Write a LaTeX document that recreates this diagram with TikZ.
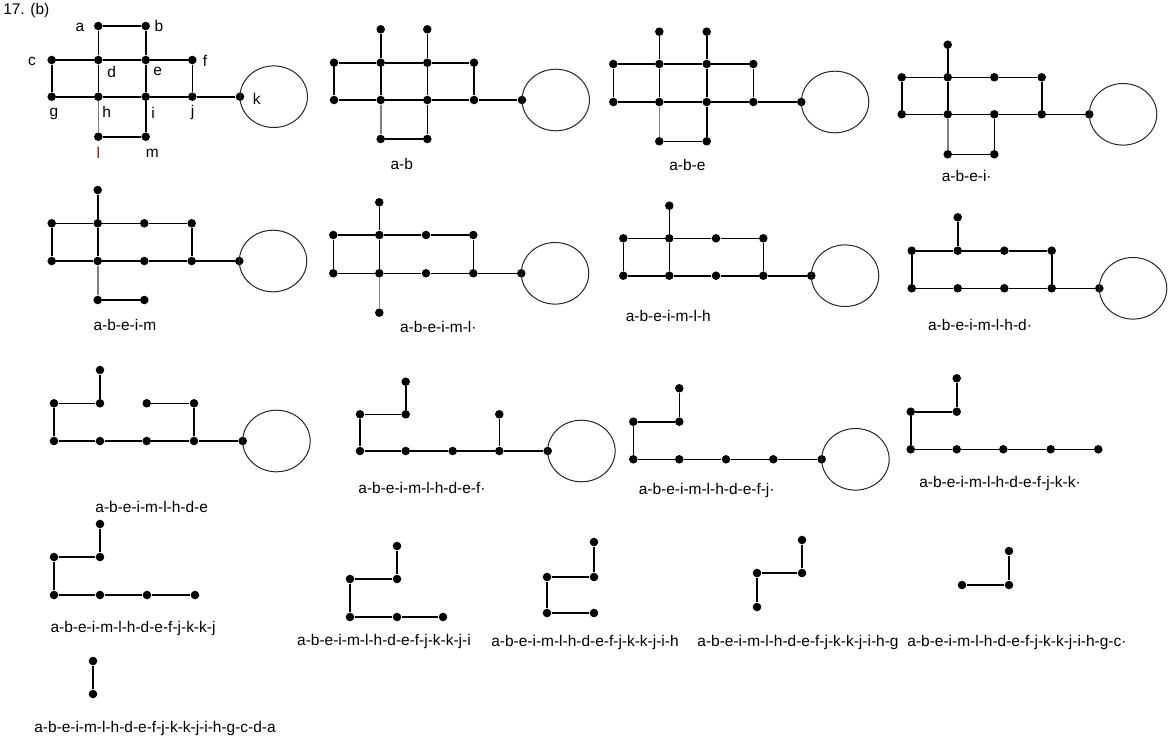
\documentclass[tikz,border=0pt]{standalone}
\usepackage{fontspec}
\setmainfont{Liberation Sans}
\newcommand\vx[3]{\node[dot] (#1) at (#2,#3) {};}
\newcommand\kloop[1]{\draw[loopline] ([xshift=25.3pt]#1.center) ellipse [x radius=25.3pt, y radius=23.1pt];}
\definecolor{lred}{RGB}{140,25,25}
\tikzset{
  dot/.style={circle,fill=black,inner sep=0pt,minimum size=6.4pt},
  edge/.style={line width=1.2pt,black},
  gedge/.style={line width=1.2pt,black!50},
  loopline/.style={line width=0.75pt,black!85},
  lbl/.style={font=\fontsize{11.6pt}{14pt}\selectfont,inner sep=0pt,text height=8.3pt,text depth=0pt},
}
\begin{document}
\begin{tikzpicture}[x=0.75pt,y=-0.75pt]
\useasboundingbox (0,0) rectangle (1176,746);
\node[lbl,anchor=west] (title) at (3,9) {17. (b)};
% ---------- G1 ----------
\vx{Aa}{98.3}{26} \vx{Ab}{145.7}{26}
\vx{Ac}{51.7}{60} \vx{Ad}{98.3}{60} \vx{Ae}{145.7}{60} \vx{Af}{192.3}{60}
\vx{Ag}{51.7}{96.7} \vx{Ah}{98.3}{96.7} \vx{Ai}{145.7}{96.7} \vx{Aj}{192.3}{96.7} \vx{Ak}{240}{96.7}
\vx{Al}{98.3}{136.7} \vx{Am}{145.7}{136.7}
\draw[edge] (Aa)--(Ab) (Aa)--(Ad) (Ab)--(Ae) (Ac)--(Ad)--(Ae)--(Af) (Ac)--(Ag) (Ad)--(Ah) (Ae)--(Ai) (Af)--(Aj)
  (Ag)--(Ah)--(Ai)--(Aj)--(Ak) (Ai)--(Am) (Al)--(Am);
\draw[gedge] (Ah)--(Al);
\kloop{Ak}
\node[lbl] (ta) at (80,26) {a};
\node[lbl] (tb) at (159,26) {b};
\node[lbl] (tc) at (32,60) {c};
\node[lbl] (td) at (111.7,71.7) {d};
\node[lbl] (te) at (157.7,70) {e};
\node[lbl] (tf) at (205,61) {f};
\node[lbl] (tg) at (54,110.5) {g};
\node[lbl] (th) at (106.7,112) {h};
\node[lbl] (ti) at (153,113) {i};
\node[lbl] (tj) at (192.7,110.5) {j};
\node[lbl] (tk) at (256.7,98.7) {k};
\node[lbl,text=lred] (tl) at (98.3,153) {l};
\node[lbl] (tm) at (152.3,151.7) {m};
% ---------- G2 ----------
\vx{Ba}{380.7}{29.3} \vx{Bb}{427.3}{29.3}
\vx{Bc}{334}{62.7} \vx{Bd}{380.7}{62.7} \vx{Be}{427.3}{62.7} \vx{Bf}{474}{62.7}
\vx{Bg}{334}{100} \vx{Bh}{380.7}{100} \vx{Bi}{427.3}{100} \vx{Bj}{474}{100} \vx{Bk}{522}{100}
\vx{Bl}{380.7}{139} \vx{Bm}{427.3}{139}
\draw[edge] (Ba)--(Bd) (Bb)--(Be) (Bc)--(Bd)--(Be)--(Bf) (Bc)--(Bg) (Bd)--(Bh) (Be)--(Bi) (Bf)--(Bj)
  (Bg)--(Bh)--(Bi)--(Bj)--(Bk) (Bi)--(Bm) (Bl)--(Bm);
\draw[gedge] (Bh)--(Bl);
\kloop{Bk}
\node[lbl] (L2) at (401.7,164) {a-b};
% ---------- G3 ----------
\vx{Ca}{659.3}{31.7} \vx{Cb}{706.7}{31.7}
\vx{Cc}{613.3}{64} \vx{Cd}{659.3}{64} \vx{Ce}{706.7}{64} \vx{Cf}{753.3}{64}
\vx{Cg}{613.3}{102} \vx{Ch}{659.3}{102} \vx{Ci}{706.7}{102} \vx{Cj}{753.3}{102} \vx{Ck}{801.3}{102}
\vx{Cl}{659.3}{141.3} \vx{Cm}{706.7}{141.3}
\draw[edge] (Ca)--(Cd) (Cb)--(Ce) (Cc)--(Cd)--(Ce)--(Cf) (Cc)--(Cg) (Cd)--(Ch) (Ce)--(Ci) (Cf)--(Cj)
  (Cg)--(Ch)--(Ci)--(Cj)--(Ck) (Ci)--(Cm) (Cl)--(Cm);
\draw[gedge] (Ch)--(Cl);
\kloop{Ck}
\node[lbl] (L3) at (687.3,165) {a-b-e};
% ---------- G4 ----------
\vx{Da}{947.7}{44.7}
\vx{Dc}{901.7}{77.3} \vx{Dd}{947.7}{77.3} \vx{De}{994.3}{77.3} \vx{Df}{1041.7}{77.3}
\vx{Dg}{901.7}{114.3} \vx{Dh}{947.7}{114.3} \vx{Di}{994.3}{114.3} \vx{Dj}{1041.7}{114.3} \vx{Dk}{1089.3}{114.3}
\vx{Dl}{947.7}{154.3} \vx{Dm}{994.3}{154.3}
\draw[edge] (Da)--(Dd) (Dc)--(Dd)--(De)--(Df) (Dc)--(Dg) (Dd)--(Dh) (Df)--(Dj)
  (Dg)--(Dh)--(Di)--(Dj)--(Dk) (Di)--(Dm) (Dl)--(Dm);
\draw[gedge] (Dh)--(Dl);
\kloop{Dk}
\node[lbl] (L4) at (966.7,176) {a-b-e-i·};
% ---------- G5 ----------
\vx{Ea}{97.7}{190}
\vx{Ec}{51.7}{223.3} \vx{Ed}{97.7}{223.3} \vx{Ee}{144.3}{223.3} \vx{Ef}{191.7}{223.3}
\vx{Eg}{51.7}{261} \vx{Eh}{97.7}{261} \vx{Ei}{144.3}{261} \vx{Ej}{191.7}{261} \vx{Ek}{239.3}{261}
\vx{El}{97.7}{300} \vx{Em}{144.3}{300}
\draw[edge] (Ea)--(Ed) (Ec)--(Ed)--(Ee)--(Ef) (Ec)--(Eg) (Ed)--(Eh) (Ef)--(Ej)
  (Eg)--(Eh)--(Ei)--(Ej)--(Ek) (El)--(Em);
\draw[gedge] (Eh)--(El);
\kloop{Ek}
\node[lbl] (L5) at (125,325) {a-b-e-i-m};
% ---------- G6 ----------
\vx{Fa}{379.3}{202.3}
\vx{Fc}{333.3}{235} \vx{Fd}{379.3}{235} \vx{Fe}{426}{235} \vx{Ff}{473.3}{235}
\vx{Fg}{333.3}{273.3} \vx{Fh}{379.3}{273.3} \vx{Fi}{426}{273.3} \vx{Fj}{473.3}{273.3} \vx{Fk}{521.3}{273.3}
\vx{Fl}{379.3}{312.7}
\draw[edge] (Fa)--(Fd) (Fc)--(Fd)--(Fe)--(Ff) (Fc)--(Fg) (Fd)--(Fh) (Ff)--(Fj)
  (Fg)--(Fh)--(Fi)--(Fj)--(Fk);
\draw[gedge] (Fh)--(Fl);
\kloop{Fk}
\node[lbl] (L6) at (438.3,326.7) {a-b-e-i-m-l·};
% ---------- G7 ----------
\vx{Ga}{669.3}{205.7}
\vx{Gc}{623.3}{238.3} \vx{Gd}{669.3}{238.3} \vx{Ge}{716}{238.3} \vx{Gf}{763.3}{238.3}
\vx{Gg}{623.3}{275.7} \vx{Gh}{669.3}{275.7} \vx{Gi}{716}{275.7} \vx{Gj}{763.3}{275.7} \vx{Gk}{811.3}{275.7}
\draw[edge] (Ga)--(Gd) (Gc)--(Gd)--(Ge)--(Gf) (Gc)--(Gg) (Gd)--(Gh) (Gf)--(Gj)
  (Gg)--(Gh)--(Gi)--(Gj)--(Gk);
\kloop{Gk}
\node[lbl] (L7) at (668.3,316) {a-b-e-i-m-l-h};
% ---------- G8 ----------
\vx{Ha}{957.7}{217.3}
\vx{Hc}{911.7}{250.7} \vx{Hd}{957.7}{250.7} \vx{He}{1004.3}{250.7} \vx{Hf}{1051.7}{250.7}
\vx{Hg}{911.7}{288.3} \vx{Hh}{957.7}{288.3} \vx{Hi}{1004.3}{288.3} \vx{Hj}{1051.7}{288.3} \vx{Hk}{1099.3}{288.3}
\draw[edge] (Ha)--(Hd) (Hc)--(Hd)--(He)--(Hf) (Hc)--(Hg) (Hf)--(Hj)
  (Hg)--(Hh)--(Hi)--(Hj)--(Hk);
\kloop{Hk}
\node[lbl] (L8) at (980,325) {a-b-e-i-m-l-h-d·};
% ---------- G9 ----------
\vx{Ia}{100}{370}
\vx{Ic}{54}{403.3} \vx{Id}{100}{403.3} \vx{Ie}{146.7}{403.3} \vx{If}{194}{403.3}
\vx{Ig}{54}{441} \vx{Ih}{100}{441} \vx{Ii}{146.7}{441} \vx{Ij}{194}{441} \vx{Ik}{242.7}{441}
\draw[edge] (Ia)--(Id) (Ic)--(Id) (Ie)--(If) (Ic)--(Ig) (If)--(Ij)
  (Ig)--(Ih)--(Ii)--(Ij)--(Ik);
\kloop{Ik}
\node[lbl] (L9) at (151.7,506.7) {a-b-e-i-m-l-h-d-e};
% ---------- G10 ----------
\vx{Ja}{405.7}{381.7}
\vx{Jc}{360}{414.3} \vx{Jd}{405.7}{414.3} \vx{Jf}{499.3}{414.3}
\vx{Jg}{360}{451} \vx{Jh}{405.7}{451} \vx{Ji}{452.7}{451} \vx{Jj}{499.3}{451} \vx{Jk}{547.7}{451}
\draw[edge] (Ja)--(Jd) (Jc)--(Jd) (Jc)--(Jg) (Jf)--(Jj)
  (Jg)--(Jh)--(Ji)--(Jj)--(Jk);
\kloop{Jk}
\node[lbl] (L10) at (422,488) {a-b-e-i-m-l-h-d-e-f·};
% ---------- G11 ----------
\vx{Ka}{679.3}{388.3}
\vx{Kc}{633.3}{421.7} \vx{Kd}{679.3}{421.7}
\vx{Kg}{633.3}{459.3} \vx{Kh}{679.3}{459.3} \vx{Ki}{726}{459.3} \vx{Kj}{773.3}{459.3} \vx{Kk}{821.7}{459.3}
\draw[edge] (Ka)--(Kd) (Kc)--(Kd) (Kc)--(Kg)
  (Kg)--(Kh)--(Ki)--(Kj)--(Kk);
\kloop{Kk}
\node[lbl] (L11) at (706.7,489) {a-b-e-i-m-l-h-d-e-f-j·};
% ---------- G12 ----------
\vx{La}{956.7}{378.3}
\vx{Lc}{910.7}{411.7} \vx{Ld}{956.7}{411.7}
\vx{Lg}{910.7}{449.3} \vx{Lh}{956.7}{449.3} \vx{Li}{1003.3}{449.3} \vx{Lj}{1050.7}{449.3} \vx{Lk}{1098.3}{449.3}
\draw[edge] (La)--(Ld) (Lc)--(Ld) (Lc)--(Lg)
  (Lg)--(Lh)--(Li)--(Lj)--(Lk);
\node[lbl] (L12) at (1000,481.7) {a-b-e-i-m-l-h-d-e-f-j-k-k·};
% ---------- G13 ----------
\vx{Ma}{100}{524}
\vx{Mc}{54}{557} \vx{Md}{100}{557}
\vx{Mg}{54}{595} \vx{Mh}{100}{595} \vx{Mi}{147}{595} \vx{Mj}{195}{595}
\draw[edge] (Ma)--(Md) (Mc)--(Md) (Mc)--(Mg) (Mg)--(Mh)--(Mi)--(Mj);
\node[lbl] (L13) at (133,627) {a-b-e-i-m-l-h-d-e-f-j-k-k-j};
% ---------- G14 ----------
\vx{Na}{397}{546}
\vx{Nc}{350}{579} \vx{Nd}{397}{579}
\vx{Ng}{350}{617} \vx{Nh}{397}{617} \vx{Ni}{443}{617}
\draw[edge] (Na)--(Nd) (Nc)--(Nd) (Nc)--(Ng) (Ng)--(Nh)--(Ni);
\node[lbl] (L14) at (384,640) {a-b-e-i-m-l-h-d-e-f-j-k-k-j-i};
% ---------- G15 ----------
\vx{Oa}{594}{542}
\vx{Oc}{547}{577} \vx{Od}{594}{577}
\vx{Og}{547}{613} \vx{Oh}{594}{613}
\draw[edge] (Oa)--(Od) (Oc)--(Od) (Oc)--(Og) (Og)--(Oh);
\node[lbl] (L15) at (585,641) {a-b-e-i-m-l-h-d-e-f-j-k-k-j-i-h};
% ---------- G16 ----------
\vx{Pa}{802}{540}
\vx{Pc}{757}{573} \vx{Pd}{802}{573}
\vx{Pg}{757}{607}
\draw[edge] (Pa)--(Pd) (Pc)--(Pd) (Pc)--(Pg);
\node[lbl] (L16) at (798,641) {a-b-e-i-m-l-h-d-e-f-j-k-k-j-i-h-g};
% ---------- G17 ----------
\vx{Qa}{1009}{551}
\vx{Qc}{962}{585} \vx{Qd}{1009}{585}
\draw[edge] (Qa)--(Qd) (Qc)--(Qd);
\node[lbl] (L17) at (1017,641) {a-b-e-i-m-l-h-d-e-f-j-k-k-j-i-h-g-c·};
% ---------- G18 ----------
\vx{Ra}{93}{661} \vx{Rd}{93}{694}
\draw[edge] (Ra)--(Rd);
\node[lbl] (L18) at (155,727) {a-b-e-i-m-l-h-d-e-f-j-k-k-j-i-h-g-c-d-a};
\end{tikzpicture}
\end{document}
